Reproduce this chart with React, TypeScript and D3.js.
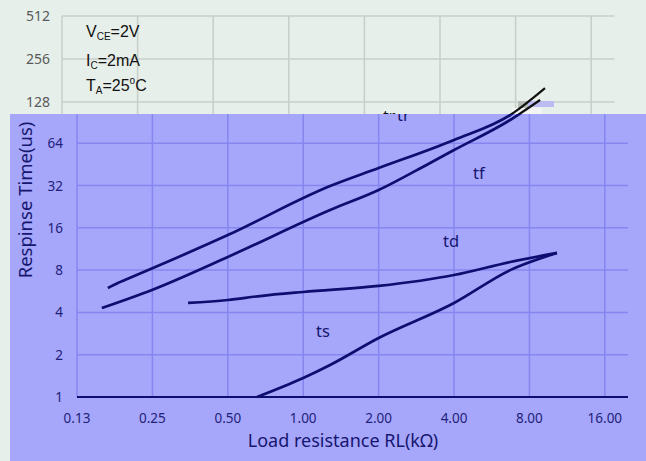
import React from 'react';
import * as d3 from 'd3';

// load resistance (kΩ) vs response time (us)
const trRL = [0.166, 0.182, 0.194, 0.5, 1.28, 2.0, 4.0, 6.7, 9.23];
const trTime = [5.97, 6.48, 6.8, 14.2, 31.7, 42.6, 67.5, 101.6, 158];

const tfRL = [0.157, 0.249, 0.5, 1.28, 2.0, 3.21, 4.0, 6.7, 8.82];
const tfTime = [4.3, 5.78, 9.92, 21.4, 29.7, 46.3, 57.2, 93.6, 130];

const tdRL = [0.347, 0.5, 0.672, 1.0, 2.0, 4.0, 6.7, 10.3];
const tdTime = [4.67, 4.9, 5.23, 5.59, 6.17, 7.38, 9.13, 10.6];

const tsRL = [0.654, 1.0, 1.28, 2.0, 4.0, 6.7, 10.3];
const tsTime = [1.0, 1.365, 1.69, 2.63, 4.67, 8.0, 10.6];

const xTicks = [0.125, 0.25, 0.5, 1, 2, 4, 8, 16];
const xTickLabels = ['0.13', '0.25', '0.50', '1.00', '2.00', '4.00', '8.00', '16.00'];
const yTicks = [1, 2, 4, 8, 16, 32, 64, 128, 256, 512];

const W = 646;
const H = 461;
const PURPLE_TOP = 114;
const xMax = 0.125 * Math.pow(2, 7.307);

const toPts = (xs: number[], ys: number[]) => xs.map((x, i) => [x, ys[i]] as [number, number]);

export default function App() {
  // the purple (front) chart
  const x = d3.scaleLog().base(2).domain([0.125, xMax]).range([77, 628]);
  const y = d3.scaleLog().base(2).domain([1, 128]).range([397, 397 - 7 * 42.3]);
  // the grey (back) chart, shifted a little
  const xb = d3.scaleLog().base(2).domain([0.125, xMax]).range([62, 62 + 7.307 * 75.6]);
  const yb = d3.scaleLog().base(2).domain([128, 512]).range([102, 16]);

  const line = d3.line<[number, number]>()
    .x(d => x(d[0]))
    .y(d => y(d[1]))
    .curve(d3.curveMonotoneX);

  const curves = [toPts(trRL, trTime), toPts(tfRL, tfTime), toPts(tdRL, tdTime), toPts(tsRL, tsTime)];
  const navy = '#0e0e70';
  const font = "'Noto Sans', sans-serif";

  return (
    <svg width={W} height={H} style={{ position: 'fixed', left: 0, top: 0 }}>
      <defs>
        <clipPath id="topClip"><rect x={0} y={0} width={W} height={PURPLE_TOP} /></clipPath>
        <clipPath id="purpleClip"><rect x={10} y={PURPLE_TOP} width={W - 10} height={H - PURPLE_TOP} /></clipPath>
      </defs>

      {/* back chart */}
      <rect x={0} y={0} width={W} height={H} fill="#e6efe9" />
      <g stroke="#c8cec9" strokeWidth={1.5}>
        {yTicks.filter(t => t >= 128).map(t => (
          <line key={t} x1={xb(0.125)} x2={xb.range()[1]} y1={yb(t)} y2={yb(t)} />
        ))}
        {xTicks.map(t => (
          <line key={t} x1={xb(t)} x2={xb(t)} y1={yb(512)} y2={PURPLE_TOP} />
        ))}
      </g>
      <g fontFamily={font} fontSize={14} fill="#595959" textAnchor="end">
        {yTicks.filter(t => t >= 128).map(t => (
          <text key={t} x={50} y={yb(t) + 5}>{t}</text>
        ))}
      </g>
      <g fontFamily="'Liberation Sans', Arial, sans-serif" fontSize={16} fill="#111">
        <text x={86} y={37}>V<tspan fontSize={10} dy={3}>CE</tspan><tspan dy={-3}>=2V</tspan></text>
        <text x={86} y={66}>I<tspan fontSize={10} dy={3}>C</tspan><tspan dy={-3}>=2mA</tspan></text>
        <text x={86} y={91}>T<tspan fontSize={10} dy={3}>A</tspan><tspan dy={-3}>=25</tspan><tspan fontSize={10} dy={-7}>o</tspan><tspan dy={7}>C</tspan></text>
      </g>
      <g clipPath="url(#topClip)">
        <rect x={518} y={101} width={10} height={7} fill="#b4bcb4" />
        <rect x={528} y={101} width={26} height={6} fill="#bcbcf2" />
        <rect x={512} y={108} width={30} height={6} fill="#f4f4f4" />
        {curves.slice(0, 2).map((c, i) => (
          <path key={i} d={line(c) ?? ''} fill="none" stroke="#111" strokeWidth={2.2} />
        ))}
        <text x={383} y={122} fontFamily={font} fontSize={16} fill="#111">tr</text>
      </g>

      {/* front chart */}
      <rect x={10} y={PURPLE_TOP} width={W - 10} height={H - PURPLE_TOP} fill="#a6a6fb" />
      <g clipPath="url(#purpleClip)">
        <g stroke="#8686f0" strokeWidth={1.5}>
          {yTicks.filter(t => t > 1).map(t => (
            <line key={t} x1={x(0.125)} x2={x.range()[1]} y1={y(t)} y2={y(t)} />
          ))}
          {xTicks.map(t => (
            <line key={t} x1={x(t)} x2={x(t)} y1={PURPLE_TOP} y2={y(1)} />
          ))}
        </g>
        <line x1={x(0.125)} x2={x.range()[1]} y1={y(1)} y2={y(1)} stroke={navy} strokeWidth={2} />
        {curves.map((c, i) => (
          <path key={i} d={line(c) ?? ''} fill="none" stroke={navy} strokeWidth={2.7} strokeLinejoin="round" />
        ))}
        <g fontFamily={font} fontSize={13.5} fill="#22227a">
          {yTicks.filter(t => t <= 64).map(t => (
            <text key={t} x={63} y={y(t) + 5} textAnchor="end">{t}</text>
          ))}
          {xTicks.map((t, i) => (
            <text key={t} x={x(t)} y={423} textAnchor="middle">{xTickLabels[i]}</text>
          ))}
        </g>
        <g fontFamily={font} fontSize={16.5} fill="#16166f">
          <text x={397} y={121}>tr</text>
          <text x={473} y={179}>tf</text>
          <text x={443} y={247}>td</text>
          <text x={316} y={337}>ts</text>
        </g>
        <text x={343} y={447} textAnchor="middle" fontFamily={font} fontSize={18} fill="#16166f">
          Load resistance RL(kΩ)
        </text>
        <text transform="translate(32,200) rotate(-90)" textAnchor="middle" fontFamily={font} fontSize={18.5} fill="#16166f">
          Respinse Time(us)
        </text>
      </g>
    </svg>
  );
}
